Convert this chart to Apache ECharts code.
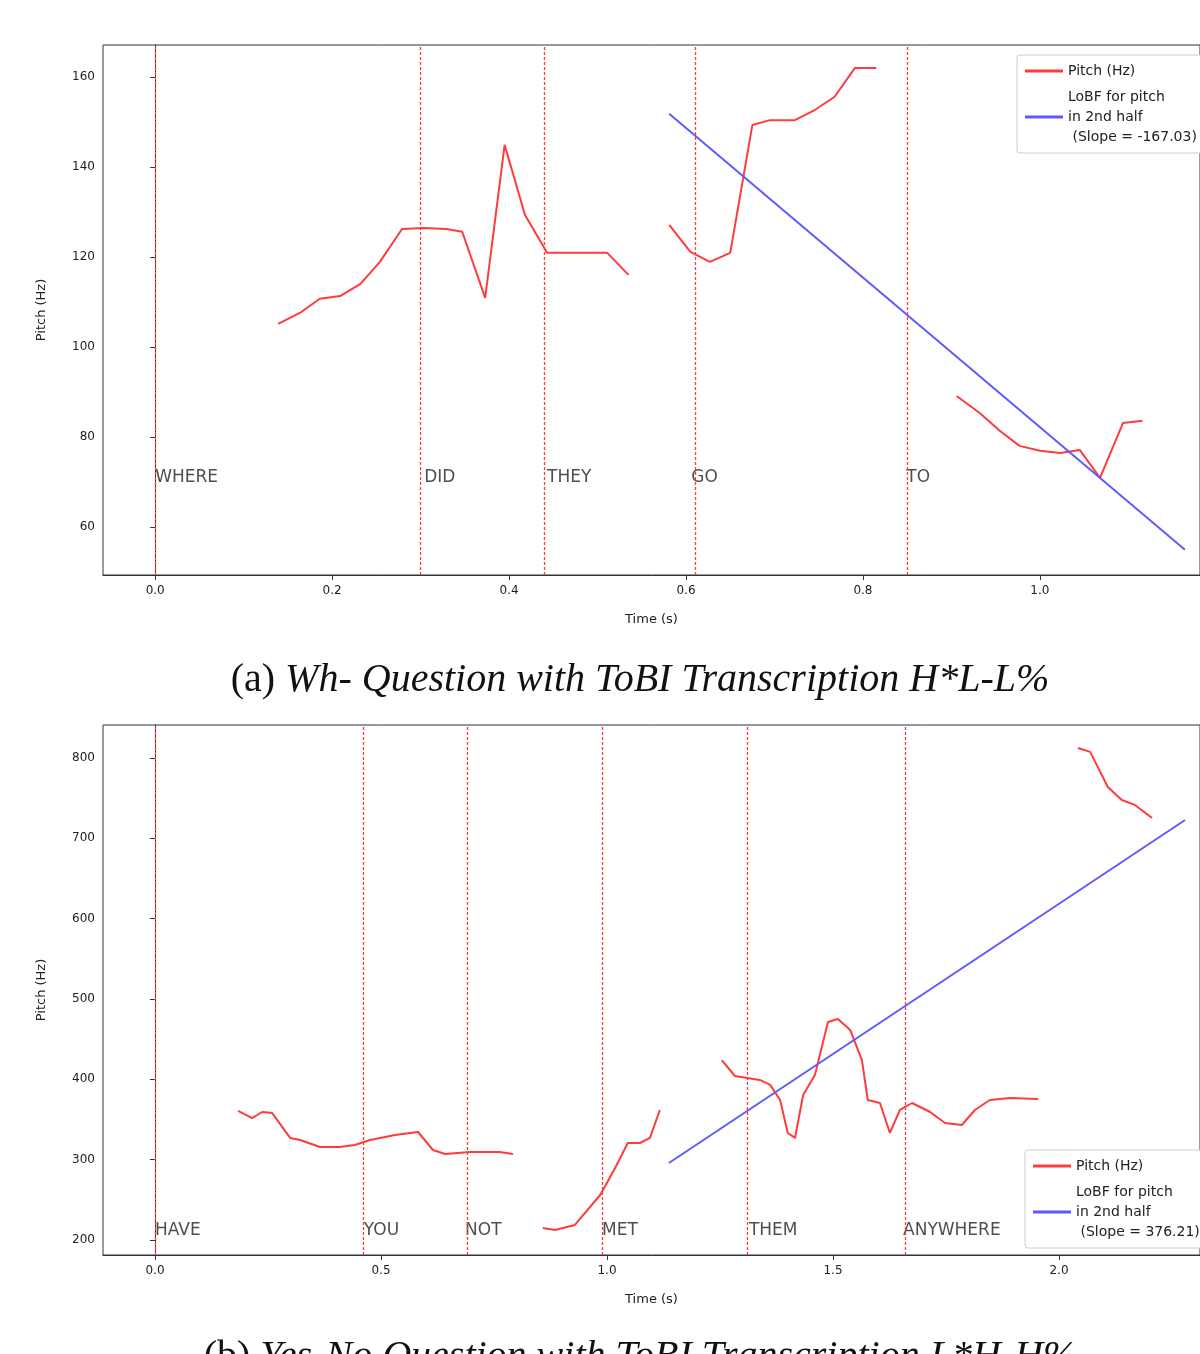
<!DOCTYPE html><html><head><meta charset="utf-8"><script src="https://cdn.jsdelivr.net/npm/echarts@6/dist/echarts.min.js"></script>
<style>body{margin:0;background:#fff}#c{width:1200px;height:1354px}</style></head><body><div id="c"></div><script>
const pitchA=[[0.139,105.1],[0.164,107.6],[0.186,110.7],[0.209,111.3],[0.232,114],[0.254,118.9],[0.279,126.2],[0.304,126.4],[0.329,126.2],[0.347,125.6],[0.373,110.9],[0.395,144.9],[0.418,129.3],[0.443,120.9],[0.469,120.9],[0.511,120.9],[0.535,116],null,
[0.581,127.1],[0.605,121.1],[0.627,118.9],[0.65,120.9],[0.675,149.3],[0.695,150.4],[0.723,150.4],[0.746,152.7],[0.768,155.6],[0.791,162],[0.815,162],null,
[0.906,89.1],[0.932,85.3],[0.955,81.3],[0.977,78],[1.0,76.9],[1.023,76.4],[1.045,77.1],[1.068,70.9],[1.094,83.1],[1.116,83.6]];
const lobfA=[[0.581,151.8],[1.164,54.9]];
const wordsA=['WHERE','DID','THEY','GO','TO'];
const boundsA=[0,0.304,0.443,0.606,0.849];
const pitchB=[[0.184,360.6],[0.215,351.8],[0.237,359.3],[0.259,358.1],[0.299,327],[0.321,324.5],[0.365,315.8],[0.409,315.8],[0.442,318.2],[0.476,324.5],[0.531,330.7],[0.582,334.4],[0.615,312],[0.642,307],[0.697,309.5],[0.763,309.5],[0.792,307],null,
[0.858,214.9],[0.885,212.4],[0.929,218.7],[0.985,256],[1.018,289.6],[1.046,320.7],[1.073,320.7],[1.095,327],[1.117,361.8],null,
[1.254,424],[1.283,404.1],[1.338,399.2],[1.361,393],[1.383,374.2],[1.4,333.2],[1.416,327],[1.434,380.5],[1.46,405.4],[1.489,471.4],[1.511,475.1],[1.538,461.4],[1.564,424],[1.577,374.2],[1.604,370.5],[1.626,333.2],[1.648,361.8],[1.675,370.5],[1.715,359.3],[1.748,345.6],[1.785,343.1],[1.814,361.8],[1.847,374.2],[1.892,376.7],[1.954,375.5],null,
[2.042,812.4],[2.069,807.5],[2.108,763.9],[2.139,747.7],[2.168,741.5],[2.206,725.3]];
const lobfB=[[1.137,295.8],[2.279,722.8]];
const wordsB=['HAVE','YOU','NOT','MET','THEM','ANYWHERE'];
const boundsB=[0,0.462,0.686,0.989,1.314,1.655];
const ticksXA=[0,0.2,0.4,0.6,0.8,1.0],ticksYA=[60,80,100,120,140,160];
const ticksXB=[0,0.5,1.0,1.5,2.0],ticksYB=[200,300,400,500,600,700,800];
const nameA='LoBF for pitch\nin 2nd half\n (Slope = -167.03)',nameB='LoBF for pitch\nin 2nd half\n (Slope = 376.21)';
const RED='#ff3b3b',BLUE='#5b5bff',F='DejaVu Sans';
const c=echarts.init(document.getElementById('c'));
function xa(i,min,max,ticks){return {type:'value',gridIndex:i,min,max,name:'Time (s)',nameLocation:'middle',nameGap:38,nameTextStyle:{fontFamily:F,fontSize:13,color:'#222'},
axisLine:{lineStyle:{color:'#333'}},splitLine:{show:false},axisTick:{customValues:ticks,length:5,lineStyle:{color:'#333'}},axisLabel:{customValues:ticks,margin:10,fontFamily:F,fontSize:12,color:'#222',formatter:v=>v.toFixed(1)}};}
function ya(i,min,max,ticks){return {type:'value',gridIndex:i,min,max,name:'Pitch (Hz)',nameLocation:'middle',nameGap:55,nameTextStyle:{fontFamily:F,fontSize:13,color:'#222'},
axisLine:{show:true,lineStyle:{color:'#333'}},splitLine:{show:false},axisTick:{show:true,customValues:ticks,length:5,lineStyle:{color:'#333'}},axisLabel:{customValues:ticks,fontFamily:F,fontSize:12,color:'#222'}};}
function vlines(b){return {symbol:'none',silent:true,label:{show:false},lineStyle:{color:RED,type:[3,2],width:1.3},data:b.map(v=>({xAxis:v}))};}
function words(w,b,y,i){return {type:'scatter',xAxisIndex:i,yAxisIndex:i,symbolSize:0,silent:true,data:w.map((t,k)=>[b[k],y,t]),
label:{show:true,position:'right',distance:0,formatter:p=>p.data[2],fontFamily:F,fontSize:17,color:'#222'}};}
c.setOption({animation:false,
grid:[{left:103,top:45,right:0,height:530,show:true,borderColor:'#333'},{left:103,top:725,right:0,height:530,show:true,borderColor:'#333'}],
xAxis:[xa(0,-0.059,1.181,ticksXA),xa(1,-0.115,2.312,ticksXB)],
yAxis:[ya(0,49.3,167.1,ticksYA),ya(1,181.3,841,ticksYB)],
legend:[{left:1017,top:55,orient:'vertical',itemWidth:38,itemGap:6,borderColor:'#ccc',borderWidth:1,borderRadius:3,padding:[6,8],backgroundColor:'#fff',
data:['Pitch (Hz)',nameA],textStyle:{fontFamily:F,fontSize:14,color:'#222',lineHeight:20},icon:'rect',itemHeight:3},
{left:1025,top:1150,orient:'vertical',itemWidth:38,itemGap:6,borderColor:'#ccc',borderWidth:1,borderRadius:3,padding:[6,8],backgroundColor:'#fff',
data:['Pitch (Hz)',nameB],textStyle:{fontFamily:F,fontSize:14,color:'#222',lineHeight:20},icon:'rect',itemHeight:3}],
title:[{text:'(a) {i|Wh- Question with ToBI Transcription H*L-L%}',left:635,textAlign:'center',top:655,textStyle:{fontFamily:'Liberation Serif',fontSize:40,fontWeight:'normal',color:'#111',rich:{i:{fontFamily:'Liberation Serif',fontStyle:'italic',fontSize:40,color:'#111'}}}},
{text:'(b) {i|Yes-No Question with ToBI Transcription L*H-H%}',left:635,textAlign:'center',top:1332,textStyle:{fontFamily:'Liberation Serif',fontSize:40,fontWeight:'normal',color:'#111',rich:{i:{fontFamily:'Liberation Serif',fontStyle:'italic',fontSize:40,color:'#111'}}}}],
series:[
{name:'Pitch (Hz)',type:'line',xAxisIndex:0,yAxisIndex:0,data:pitchA,showSymbol:false,connectNulls:false,lineStyle:{color:RED,width:2},itemStyle:{color:RED},markLine:vlines(boundsA)},
{name:nameA,type:'line',xAxisIndex:0,yAxisIndex:0,data:lobfA,showSymbol:false,lineStyle:{color:BLUE,width:2},itemStyle:{color:BLUE}},
words(wordsA,boundsA,71,0),
{name:'Pitch (Hz)',type:'line',xAxisIndex:1,yAxisIndex:1,data:pitchB,showSymbol:false,connectNulls:false,lineStyle:{color:RED,width:2},itemStyle:{color:RED},markLine:vlines(boundsB)},
{name:nameB,type:'line',xAxisIndex:1,yAxisIndex:1,data:lobfB,showSymbol:false,lineStyle:{color:BLUE,width:2},itemStyle:{color:BLUE}},
words(wordsB,boundsB,212,1)]});
</script></body></html>
